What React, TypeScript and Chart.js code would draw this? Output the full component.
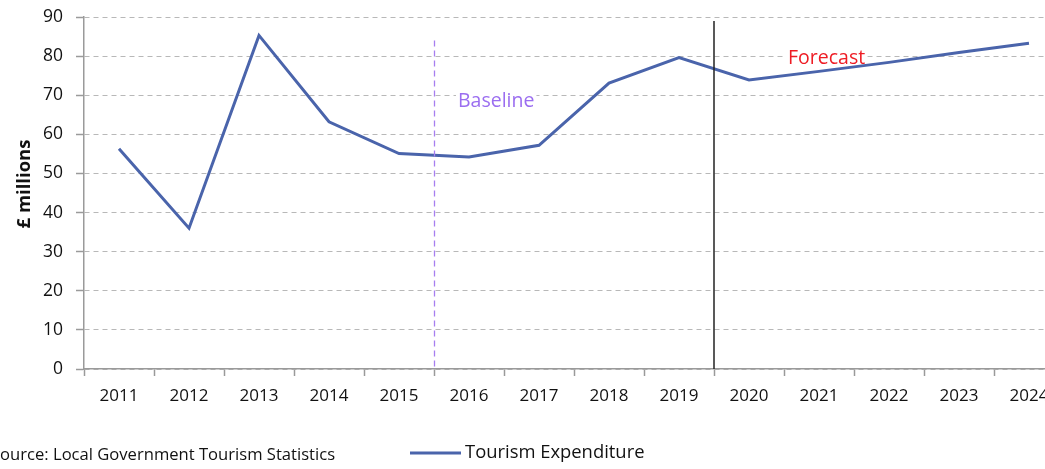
import React, { useEffect, useRef } from "react";
import { Chart, registerables } from "chart.js";

Chart.register(...registerables);

// ---- Data ----
const years = ["2011", "2012", "2013", "2014", "2015", "2016", "2017", "2018", "2019", "2020", "2021", "2022", "2023", "2024"];
const expenditure = [56.3, 36.0, 85.3, 63.2, 55.1, 54.2, 57.2, 73.1, 79.6, 73.9, 76.1, 78.4, 80.9, 83.3];
const yMin = 0;
const yMax = 90;
const yStep = 10;

// Reference markers (between two categories), top value of each marker line
const baselineBetween = ["2015", "2016"];
const baselineTop = 84;
const forecastBetween = ["2019", "2020"];
const forecastTop = 89;

// Annotation labels
const baselineLabel = "Baseline";
const baselineLabelValue = 68.3;
const forecastLabel = "Forecast";
const forecastLabelValue = 79.3;

const seriesName = "Tourism Expenditure";
const yTitle = "£ millions";
const sourceText = "Source: Local Government Tourism Statistics";

const FONT = "'Open Sans', sans-serif";
const LINE_COLOR = "#4a64ab";
const AXIS_COLOR = "#9a9a9a";
const GRID_COLOR = "#b8b8b8";
const TEXT_COLOR = "#111111";

const labelPlugin = {
  id: "labelsBehindLine",
  beforeDatasetsDraw(chart: any) {
    const { ctx, scales } = chart;
    const x = scales.x;
    const y = scales.y;
    const mid = (a: string, b: string) =>
      (x.getPixelForValue(years.indexOf(a)) + x.getPixelForValue(years.indexOf(b))) / 2;
    const xb = mid(baselineBetween[0], baselineBetween[1]);
    const xf = mid(forecastBetween[0], forecastBetween[1]);
    ctx.save();
    ctx.textBaseline = "middle";
    ctx.textAlign = "left";
    ctx.font = `19.5px ${FONT}`;
    const draw = (text: string, lx: number, ly: number, color: string) => {
      const w = ctx.measureText(text).width;
      ctx.fillStyle = "#ffffff";
      ctx.fillRect(lx - 2, ly - 11, w + 4, 22);
      ctx.fillStyle = color;
      ctx.fillText(text, lx, ly);
    };
    draw(baselineLabel, xb + 24, y.getPixelForValue(baselineLabelValue), "#9b6ef0");
    draw(forecastLabel, xf + 74, y.getPixelForValue(forecastLabelValue), "#ee1c24");
    ctx.restore();
  },
};

const annotationPlugin = {
  id: "annotations",
  afterDatasetsDraw(chart: any) {
    const { ctx, scales, chartArea } = chart;
    const x = scales.x;
    const y = scales.y;
    const mid = (a: string, b: string) =>
      (x.getPixelForValue(years.indexOf(a)) + x.getPixelForValue(years.indexOf(b))) / 2;

    const xb = mid(baselineBetween[0], baselineBetween[1]);
    const xf = mid(forecastBetween[0], forecastBetween[1]);

    ctx.save();
    // Baseline dashed purple line
    ctx.strokeStyle = "#a77ef0";
    ctx.lineWidth = 1.3;
    ctx.setLineDash([6, 4]);
    ctx.beginPath();
    ctx.moveTo(Math.round(xb) + 0.5, y.getPixelForValue(baselineTop));
    ctx.lineTo(Math.round(xb) + 0.5, chartArea.bottom);
    ctx.stroke();

    // Forecast solid black line
    ctx.setLineDash([]);
    ctx.strokeStyle = "#222222";
    ctx.lineWidth = 1.5;
    ctx.beginPath();
    ctx.moveTo(Math.round(xf), y.getPixelForValue(forecastTop));
    ctx.lineTo(Math.round(xf), chartArea.bottom);
    ctx.stroke();

    ctx.textBaseline = "middle";

    // Y axis title
    ctx.save();
    ctx.translate(25, 184);
    ctx.rotate(-Math.PI / 2);
    ctx.textAlign = "center";
    ctx.fillStyle = TEXT_COLOR;
    ctx.font = `bold 18.5px ${FONT}`;
    ctx.fillText(yTitle, 0, 0);
    ctx.restore();

    // Source
    ctx.font = `16.6px ${FONT}`;
    ctx.fillStyle = TEXT_COLOR;
    ctx.textAlign = "left";
    ctx.fillText(sourceText, -9, 455);

    // Legend
    ctx.strokeStyle = LINE_COLOR;
    ctx.lineWidth = 3;
    ctx.beginPath();
    ctx.moveTo(410, 453);
    ctx.lineTo(461, 453);
    ctx.stroke();
    ctx.font = `18.4px ${FONT}`;
    ctx.fillText(seriesName, 465, 453);
    ctx.restore();
  },
};

export default function App() {
  const ref = useRef<HTMLCanvasElement | null>(null);

  useEffect(() => {
    document.body.style.overflow = "hidden";
    const canvas = ref.current;
    if (!canvas) return;
    const chart = new Chart(canvas, {
      type: "line",
      data: {
        labels: years,
        datasets: [
          {
            label: seriesName,
            data: expenditure,
            borderColor: LINE_COLOR,
            backgroundColor: LINE_COLOR,
            borderWidth: 3,
            pointRadius: 0,
            tension: 0,
            fill: false,
          },
        ],
      },
      options: {
        animation: false,
        responsive: false,
        devicePixelRatio: 1,
        layout: { padding: { top: 17, right: 11, left: 0, bottom: 0 } },
        plugins: {
          legend: { display: false },
          title: { display: false },
          tooltip: { enabled: false },
        },
        scales: {
          x: {
            type: "category",
            offset: true,
            grid: {
              offset: true,
              drawOnChartArea: false,
              drawTicks: true,
              tickLength: 7,
              color: AXIS_COLOR,
              tickWidth: 1.5,
            },
            border: { display: true, color: AXIS_COLOR, width: 1.5 },
            ticks: {
              color: TEXT_COLOR,
              padding: 10,
              maxRotation: 0,
              autoSkip: false,
              font: { family: FONT, size: 17 },
            },
            afterFit: (s: any) => {
              s.height = 100;
              s.paddingLeft = 0;
              s.paddingRight = 0;
            },
          },
          y: {
            min: yMin,
            max: yMax,
            ticks: {
              stepSize: yStep,
              color: TEXT_COLOR,
              padding: 13,
              font: { family: FONT, size: 17.5 },
            },
            grid: {
              color: GRID_COLOR,
              lineWidth: 1,
              drawTicks: true,
              tickLength: 8,
              tickColor: AXIS_COLOR,
              tickWidth: 1.5,
            },
            border: { display: true, color: AXIS_COLOR, width: 1.5, dash: [5, 4] },
            afterFit: (s: any) => {
              s.width = 84;
              s.paddingTop = 0;
              s.paddingBottom = 0;
            },
          },
        },
      },
      plugins: [labelPlugin, annotationPlugin],
    });
    return () => chart.destroy();
  }, []);

  return (
    <div style={{ position: "fixed", left: 0, top: 0, width: 1075, height: 469, background: "#fff" }}>
      <canvas ref={ref} width={1075} height={469} style={{ display: "block" }} />
    </div>
  );
}
